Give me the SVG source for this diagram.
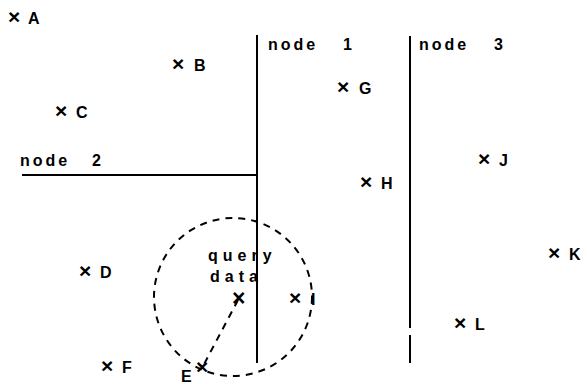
<svg xmlns="http://www.w3.org/2000/svg" width="587" height="384" viewBox="0 0 587 384">
<style>
text{font-family:"Liberation Sans",Arial,sans-serif;font-weight:bold;font-size:16px;fill:#000;letter-spacing:3px}
.x{font-size:21px;letter-spacing:0}
.ln{stroke:#000;stroke-width:2;fill:none}
.ds{stroke:#000;stroke-width:2;fill:none;stroke-dasharray:7,6}
</style>
<rect width="587" height="384" fill="#fff"/>
<g id="connectors">
<path class="ln" d="M257,35V363"/>
<path class="ln" d="M22,175H257"/>
<path class="ln" d="M410,36V328M410,335V363"/>
<circle class="ds" cx="233" cy="297" r="79"/>
<path class="ds" d="M238,300L202,368"/>
</g>
<g id="node1"><text x="268" y="50">node<tspan x="343">1</tspan></text></g>
<g id="node2"><text x="20" y="166">node<tspan x="92">2</tspan></text></g>
<g id="node3"><text x="419" y="50">node<tspan x="494">3</tspan></text></g>
<g id="query"><text x="208" y="261" style="letter-spacing:5px">query</text><text x="210" y="282" style="letter-spacing:5px">data</text><text class="x" x="232" y="306" style="font-size:23px">×</text></g>
<g id="A"><text class="x" x="8" y="24">×</text><text x="28" y="24">A</text></g>
<g id="B"><text class="x" x="172" y="71">×</text><text x="194" y="71">B</text></g>
<g id="C"><text class="x" x="55" y="118">×</text><text x="76" y="118">C</text></g>
<g id="D"><text class="x" x="79" y="278">×</text><text x="100" y="278">D</text></g>
<g id="E"><text class="x" x="196" y="374">×</text><text x="181" y="382">E</text></g>
<g id="F"><text class="x" x="101" y="373">×</text><text x="122" y="373">F</text></g>
<g id="G"><text class="x" x="337" y="94">×</text><text x="359" y="94">G</text></g>
<g id="H"><text class="x" x="360" y="189">×</text><text x="381" y="189">H</text></g>
<g id="I"><text class="x" x="289" y="305">×</text><text x="311" y="305">I</text></g>
<g id="J"><text class="x" x="478" y="166">×</text><text x="499" y="166">J</text></g>
<g id="K"><text class="x" x="548" y="260">×</text><text x="569" y="260">K</text></g>
<g id="L"><text class="x" x="454" y="330">×</text><text x="475" y="330">L</text></g>
</svg>
